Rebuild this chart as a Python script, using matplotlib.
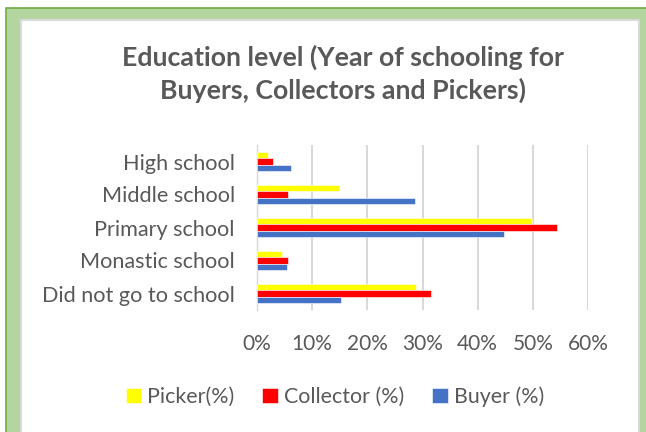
import numpy as np
import matplotlib
matplotlib.use("Agg")
from matplotlib import pyplot as plt
from matplotlib.patches import Rectangle
from matplotlib.ticker import PercentFormatter

# Категории (снизу вверх, как в исходной диаграмме)
categories = ["Did not go to school", "Monastic school", "Primary school",
              "Middle school", "High school"]

# Доли, %
picker = [28.9, 4.5, 49.8, 14.9, 2.0]
collector = [31.5, 5.7, 54.3, 5.7, 2.9]
buyer = [15.2, 5.4, 44.7, 28.6, 6.2]

series_names = ["Picker(%)", "Collector (%)", "Buyer (%)"]
colors = ["#FFFF00", "#FF0000", "#4472C4"]

W, H = 646, 432
txt = "#595959"
plt.rcParams["font.family"] = ["Lato", "DejaVu Sans"]

fig = plt.figure(figsize=(W / 100, H / 100), dpi=100)

# Рамка: зелёная подложка и белая область диаграммы
bg = fig.add_axes([0, 0, 1, 1], zorder=0)
bg.set_axis_off()
bg.set_xlim(0, W)
bg.set_ylim(H, 0)
bg.add_patch(Rectangle((6, 8), W, H, facecolor="#B4D5A0",
                       edgecolor="#70AD47", linewidth=1.2))
bg.add_patch(Rectangle((21, 20), 639 - 21, H, facecolor="white",
                       edgecolor="#D9D9D9", linewidth=1.5))

ax = fig.add_axes([257 / W, 1 - 310 / H, (588 - 257) / W, (310 - 145) / H],
                  zorder=2)
ax.set_facecolor("none")

y = np.arange(len(categories))
h = 0.2
data = [picker, collector, buyer]
offsets = [h, 0, -h]
for vals, off, col, name in zip(data, offsets, colors, series_names):
    ax.barh(y + off, np.array(vals) / 100, height=h, color=col,
            edgecolor="white", linewidth=0.4, label=name, zorder=3)

ax.set_xlim(0, 0.6)
ax.set_ylim(-0.5, len(categories) - 0.5)
ax.set_xticks(np.arange(0, 0.61, 0.1))
ax.xaxis.set_major_formatter(PercentFormatter(1.0, decimals=0))
ax.set_yticks(y)
ax.set_yticklabels(categories)
ax.grid(axis="x", color="#D9D9D9", linewidth=1.5, zorder=0)
for s in ["top", "right", "bottom"]:
    ax.spines[s].set_visible(False)
ax.spines["left"].set_color("#D9D9D9")
ax.spines["left"].set_linewidth(1.0)
ax.tick_params(axis="both", length=0, labelsize=15, labelcolor=txt)
ax.tick_params(axis="y", labelsize=15.6, pad=16)
ax.tick_params(axis="x", pad=17)

# Заголовок в две строки
fig.text(343 / W, 1 - 66 / H, "Education level (Year of schooling for",
         ha="center", va="baseline", fontsize=19.3, fontweight="bold",
         color=txt, zorder=3)
fig.text(343 / W, 1 - 99 / H, "Buyers, Collectors and Pickers)",
         ha="center", va="baseline", fontsize=19.3, fontweight="bold",
         color=txt, zorder=3)

leg = fig.legend(loc="center", bbox_to_anchor=(335 / W, 1 - 397 / H), ncol=3,
                 frameon=False, fontsize=15.4, handlelength=0.72,
                 handleheight=0.72, handletextpad=0.3, columnspacing=1.3)
leg.set_zorder(3)
for t in leg.get_texts():
    t.set_color(txt)

fig.savefig("out.png", dpi=100)
